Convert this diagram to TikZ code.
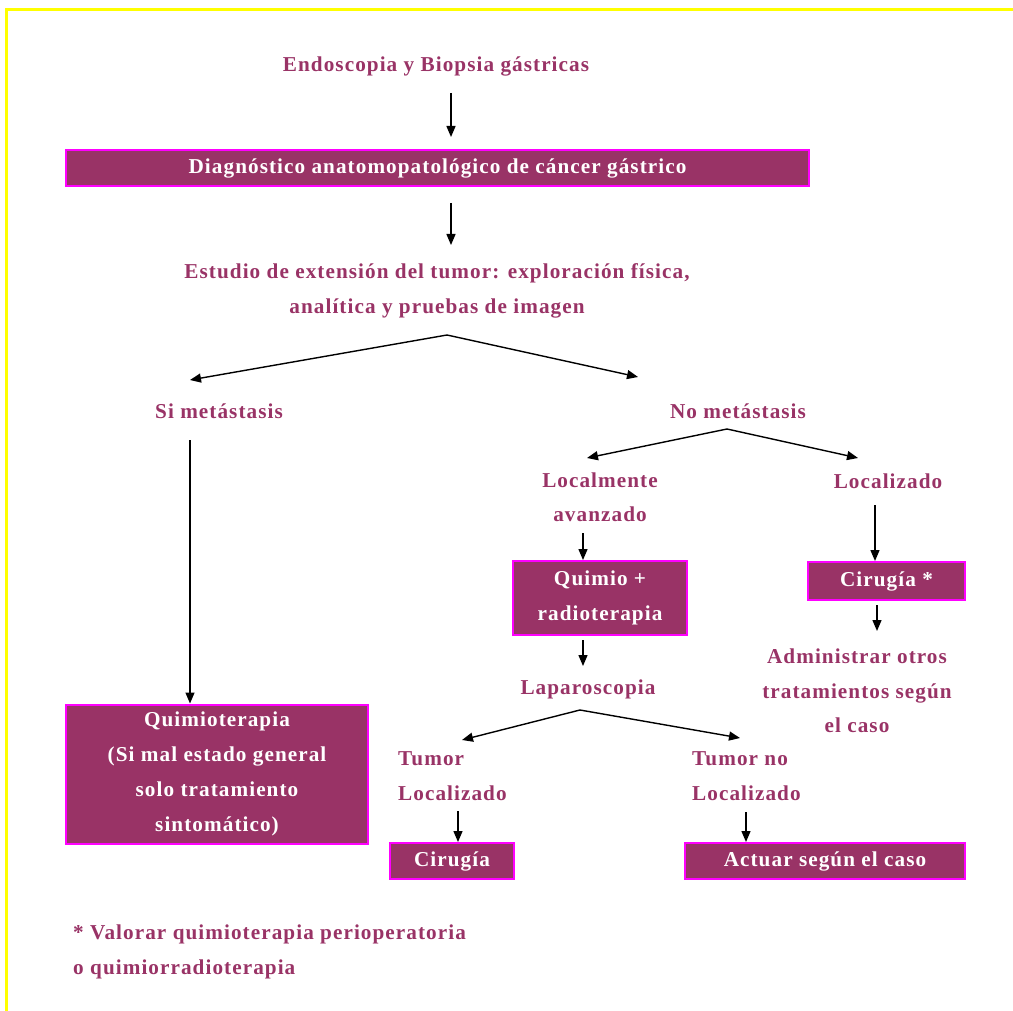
\documentclass[tikz,border=0pt]{standalone}
\usepackage{fontspec}
\usetikzlibrary{arrows.meta}
\newfontfamily\lab{Liberation Serif}[LetterSpace=5]
\definecolor{tc}{HTML}{993366}
\definecolor{bd}{HTML}{FF00FF}
\definecolor{yel}{HTML}{FFFF00}
\begin{document}
\begin{tikzpicture}[x=1pt,y=-1pt,
  lbl/.style={text=tc, font=\lab\bfseries\fontsize{21.2}{34.5}\selectfont, align=center, inner sep=0pt},
  box/.style={draw=bd, line width=2pt, fill=tc, text=white, font=\lab\bfseries\fontsize{21.2}{35}\selectfont, align=center, inner sep=0pt},
  arr/.style={-{Triangle[length=11pt,width=9pt]}, line width=1.4pt, black}]
\useasboundingbox (0,0) rectangle (1013,1011);
\draw[yel, line width=3pt] (6.5,1011) -- (6.5,10) -- (1013,10);

\node[lbl] (endo) at (436,66) {Endoscopia y Biopsia gástricas};
\node[box, minimum width=743, minimum height=36] (diag) at (437.5,168) {Diagnóstico anatomopatológico de cáncer gástrico};
\node[lbl] (est) at (437,291) {Estudio de extensión del tumor: exploración física,\\analítica y pruebas de imagen};
\node[lbl] (si) at (219,411) {Si metástasis};
\node[lbl] (no) at (738,411) {No metástasis};
\node[lbl] (lav) at (600,497) {Localmente\\avanzado};
\node[lbl] (loc) at (888,481) {Localizado};
\node[box, minimum width=174, minimum height=74] (qr) at (600,598) {Quimio +\\radioterapia};
\node[box, minimum width=157, minimum height=38] (cir1) at (886.5,581) {Cirugía *};
\node[lbl] (adm) at (857,691) {Administrar otros\\tratamientos según\\el caso};
\node[lbl] (lap) at (588,689) {Laparoscopia};
\node[lbl, align=left, anchor=west] (tl) at (398,776) {Tumor\\Localizado};
\node[lbl, align=left, anchor=west] (tnl) at (692,776) {Tumor no\\Localizado};
\node[box, minimum width=124, minimum height=36] (cir2) at (452,861) {Cirugía};
\node[box, minimum width=280, minimum height=36] (act) at (825,861) {Actuar según el caso};
\node[box, minimum width=302, minimum height=139] (qt) at (217,774) {Quimioterapia\\(Si mal estado general\\solo tratamiento\\sintomático)};
\node[lbl, align=left, anchor=west] (fn) at (73,952) {* Valorar quimioterapia perioperatoria\\o quimiorradioterapia};

\coordinate (s1) at (451,93);   \coordinate (e1) at (451,137);
\coordinate (s2) at (451,203);  \coordinate (e2) at (451,245);
\coordinate (A) at (447,335);   \coordinate (Al) at (190,380); \coordinate (Ar) at (638,377);
\coordinate (s4) at (190,440);
\coordinate (B) at (727,429);   \coordinate (Bl) at (587,458); \coordinate (Br) at (858,458);
\coordinate (s6) at (583,533);
\coordinate (s7) at (875,505);
\coordinate (s8) at (877,605);  \coordinate (e8) at (877,631);
\coordinate (s9) at (583,640);  \coordinate (e9) at (583,666);
\coordinate (C) at (580,710);   \coordinate (Cl) at (462,740); \coordinate (Cr) at (740,738);
\coordinate (s11) at (458,811);
\coordinate (s12) at (746,812);

\draw[arr] (s1) -- (e1);
\draw[arr] (s2) -- (e2);
\draw[arr] (A) -- (Al);
\draw[arr] (A) -- (Ar);
\draw[arr] (s4) -- (s4 |- qt.north);
\draw[arr] (B) -- (Bl);
\draw[arr] (B) -- (Br);
\draw[arr] (s6) -- (s6 |- qr.north);
\draw[arr] (s7) -- (s7 |- cir1.north);
\draw[arr] (s8) -- (e8);
\draw[arr] (s9) -- (e9);
\draw[arr] (C) -- (Cl);
\draw[arr] (C) -- (Cr);
\draw[arr] (s11) -- (s11 |- cir2.north);
\draw[arr] (s12) -- (s12 |- act.north);
\end{tikzpicture}
\end{document}
